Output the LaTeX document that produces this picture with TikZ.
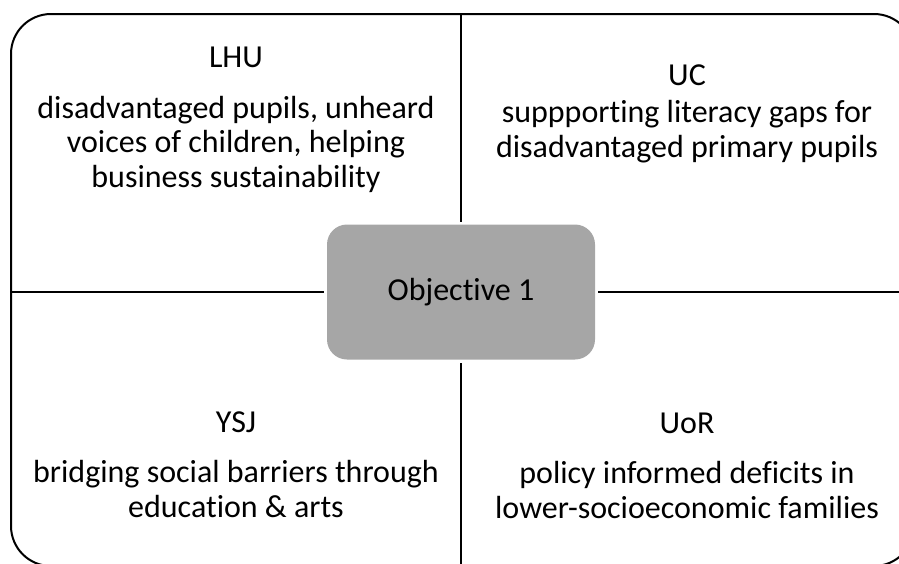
\documentclass[tikz,border=0pt]{standalone}
\usepackage{fontspec}
\setmainfont{Carlito}[Ligatures=NoCommon]
\usetikzlibrary{positioning}
\definecolor{objgrey}{HTML}{A6A6A6}

\begin{document}
\begin{tikzpicture}[x=1pt,y=-1pt,line width=2pt,
	title/.style={anchor=base,inner sep=0pt,font=\fontsize{32}{34.5}\selectfont},
	body/.style={anchor=base,inner sep=0pt,align=center,font=\fontsize{32}{34.5}\selectfont}]
\clip (0,0) rectangle (899,563);
\draw[rounded corners=40pt] (11,14) rectangle (914,566);

\node[fill=objgrey,rounded corners=20pt,minimum width=268pt,minimum height=135pt,
	font=\fontsize{32}{34.5}\selectfont] (obj) at (461,292) {Objective 1};

\coordinate (top) at (461,14);
\coordinate (bottom) at (461,566);
\coordinate (left) at (11,292);
\coordinate (right) at (914,292);
\foreach \a/\b in {top/north,bottom/south,left/west,right/east} {
	\draw[shorten >=2pt] (\a) -- (obj.\b);
}

% quadrants (base = last line)
\node[title] (lhu) at (236,67) {LHU};
\node[body] (lhutext) at (236,187) {disadvantaged pupils, unheard\\voices of children, helping\\business sustainability};
\node[title] (uc) at (687,85) {UC};
\node[body] (uctext) at (687,157) {suppporting literacy gaps for\\disadvantaged primary pupils};
\node[title] (ysj) at (236,432) {YSJ};
\node[body] (ysjtext) at (236,517) {bridging social barriers through\\education \& arts};
\node[title] (uor) at (687,433) {UoR};
\node[body] (uortext) at (687,518) {policy informed deficits in\\lower-socioeconomic families};
\end{tikzpicture}
\end{document}
